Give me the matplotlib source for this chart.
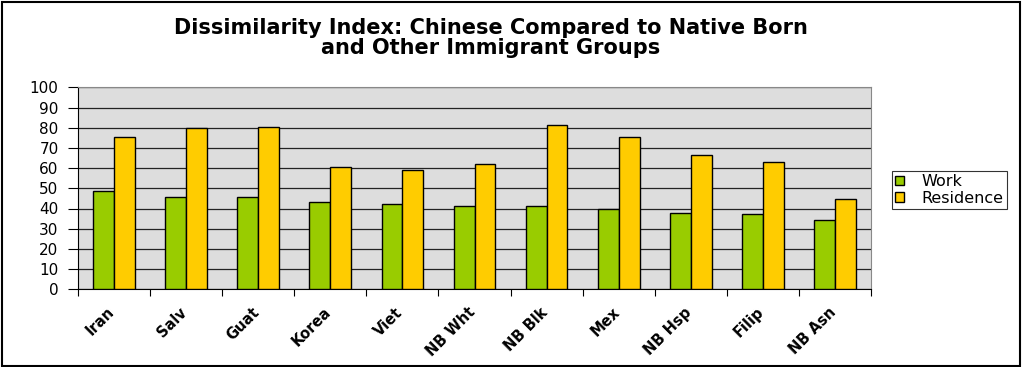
import numpy as np
import matplotlib.pyplot as plt
import matplotlib.transforms as mtransforms
from matplotlib.patches import Rectangle

plt.rcParams['font.family'] = ['DejaVu Sans']

# Dissimilarity index values per group
groups = ['Iran', 'Salv', 'Guat', 'Korea', 'Viet', 'NB Wht', 'NB Blk', 'Mex', 'NB Hsp', 'Filip', 'NB Asn']
work = [48.5, 45.5, 45.5, 43.1, 42.2, 41.3, 41.3, 39.9, 37.6, 37.1, 34.5]
residence = [75.2, 79.7, 80.2, 60.4, 58.9, 61.9, 81.2, 75.6, 66.3, 62.9, 44.6]

fig = plt.figure(figsize=(10.23, 3.67), dpi=100)
ax = fig.add_axes([78 / 1023, 1 - 289.3 / 367, 793 / 1023, 202 / 367])

x = np.arange(len(groups))
w = 0.29
ax.bar(x - w / 2, work, w, color='#99CC00', edgecolor='black', linewidth=1, label='Work', zorder=3)
ax.bar(x + w / 2, residence, w, color='#FFCC00', edgecolor='black', linewidth=1, label='Residence', zorder=3)

ax.set_facecolor('#DDDDDD')
ax.set_xlim(-0.5, len(groups) - 0.5)
ax.set_ylim(0, 100)
ax.set_yticks(range(0, 101, 10))
ax.yaxis.grid(True, color='#222222', linewidth=0.9, zorder=1)
ax.set_axisbelow(True)

# category boundary ticks on the x axis
ax.set_xticks(np.arange(-0.5, len(groups) + 0.5, 1))
ax.set_xticklabels([])
ax.set_xticks(x, minor=True)
ax.set_xticklabels(groups, minor=True, rotation=45, ha='right', rotation_mode='anchor',
                   fontsize=10.5, fontweight='bold')
ax.tick_params(axis='x', which='minor', length=0, pad=11)
ax.tick_params(axis='x', which='major', length=5, direction='out')
ax.tick_params(axis='y', labelsize=11, length=7, pad=7)

# nudge the rotated labels a little to the left of each group
shift = mtransforms.ScaledTranslation(-7 / 100, 0, fig.dpi_scale_trans)
for lbl in ax.get_xticklabels(minor=True):
    lbl.set_transform(lbl.get_transform() + shift)

for side in ['top', 'right']:
    ax.spines[side].set_color('#888888')
ax.spines['left'].set_color('black')
ax.spines['bottom'].set_color('black')

fig.text(0.48, 0.952, 'Dissimilarity Index: Chinese Compared to Native Born\nand Other Immigrant Groups',
         ha='center', va='top', fontsize=15, fontweight='bold', linespacing=1.05)

leg = fig.legend(loc='upper left', bbox_to_anchor=(892 / 1023, 1 - 171 / 367), fontsize=11.5,
                 frameon=True, fancybox=False, edgecolor='black', handlelength=0.55, handleheight=0.55,
                 handletextpad=1.1, borderpad=0.2, labelspacing=0.1, borderaxespad=0)
leg.get_frame().set_linewidth(0.8)

# outer chart border
fig.patches.append(Rectangle((0.002, 0.004), 0.995, 0.99, transform=fig.transFigure,
                             fill=False, edgecolor='black', linewidth=1.5))

fig.savefig('out.png', dpi=100)
